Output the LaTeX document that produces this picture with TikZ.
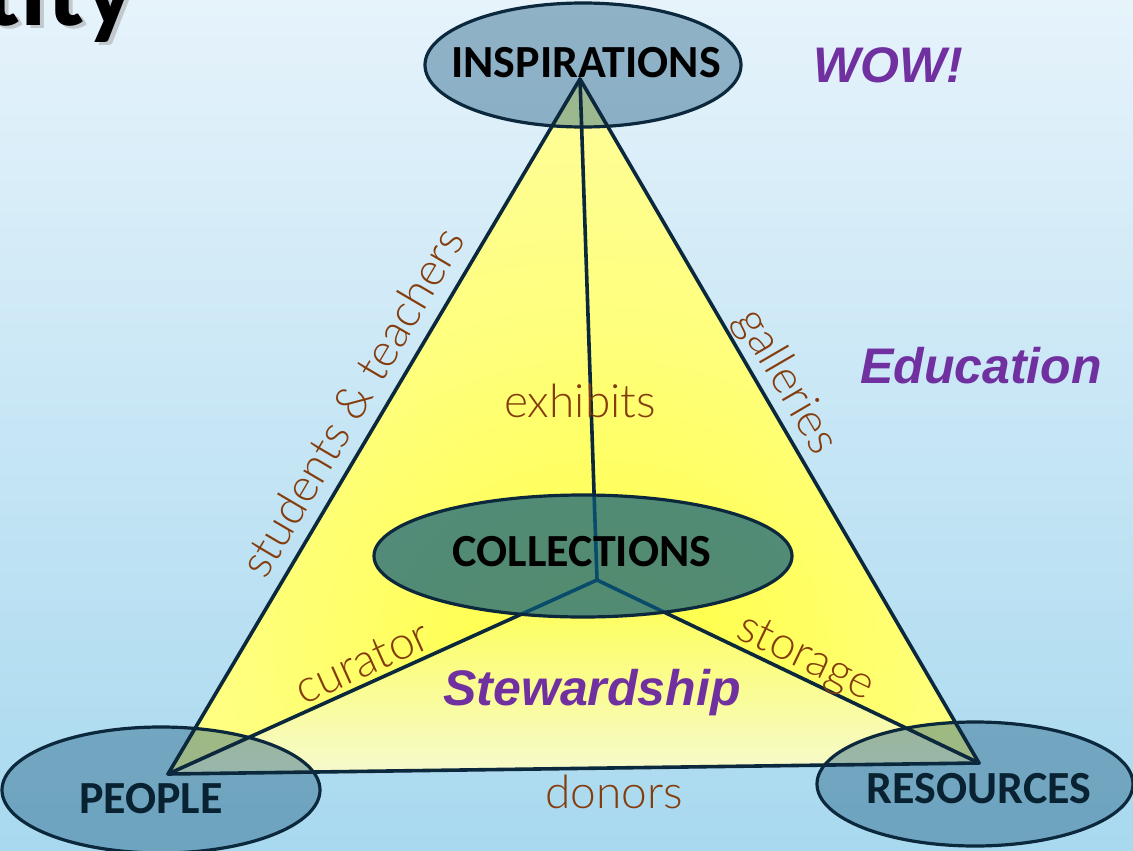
\documentclass[tikz,border=0pt]{standalone}
\usepackage{fontspec}
\usetikzlibrary{shapes.geometric}

\newfontfamily\capsfont{Carlito}
\newfontfamily\thinfont{Lato Light}
\newfontfamily\accentfont{Liberation Sans}

\definecolor{navy}{RGB}{12,40,60}
\definecolor{navytext}{RGB}{8,34,50}
\definecolor{rust}{RGB}{132,60,12}
\definecolor{plum}{RGB}{112,48,160}
\definecolor{bgtop}{RGB}{230,243,251}
\definecolor{bgbot}{RGB}{168,217,239}
\definecolor{steel}{RGB}{40,100,135}
\definecolor{deepteal}{RGB}{9,91,126}
\definecolor{ycore}{RGB}{255,255,60}
\definecolor{ymid}{RGB}{255,255,125}
\definecolor{ypale}{RGB}{252,252,172}
\definecolor{basetop}{RGB}{255,255,75}
\definecolor{basemid}{RGB}{252,253,165}
\definecolor{basebot}{RGB}{246,250,205}

% glow of the pyramid's side faces, brightest just above the hub
\pgfdeclareradialshading{pyramid}{\pgfpoint{2bp}{-19bp}}{%
  color(0bp)=(ycore); color(22bp)=(ymid); color(46bp)=(ypale); color(100bp)=(ypale)}

\tikzset{
  rim/.style={draw=navy, line width=3.6pt, line join=round, line cap=round},
  corner/.style={ellipse, draw=navy, line width=3.2pt, fill=steel, fill opacity=.45,
    inner sep=0pt, minimum width=316pt, minimum height=124pt},
  hubring/.style={ellipse, draw=navy, line width=3.2pt, fill=deepteal, fill opacity=.7,
    inner sep=0pt, minimum width=418pt, minimum height=122pt},
  captext/.style={font=\capsfont\bfseries\fontsize{46}{50}\selectfont, inner sep=0pt},
  linktext/.style={font=\thinfont\fontsize{46}{52}\selectfont, text=rust, inner sep=0pt},
  themetext/.style={font=\accentfont\bfseries\itshape\fontsize{50}{56}\selectfont,
    text=plum, inner sep=0pt},
  titletext/.style={font=\capsfont\bfseries\fontsize{108}{112}\selectfont, inner sep=0pt}
}

\begin{document}
\begin{tikzpicture}[x=1pt, y=-1pt]
\useasboundingbox (0,0) rectangle (1133,851);

% backdrop
\shade[top color=bgtop, bottom color=bgbot] (0,0) rectangle (1133,851);

% tail of the slide title, with its soft drop shadow
\node[titletext, text=black!40, opacity=.45, anchor=base east] (titleshadow) at (140,29) {tity};
\node[titletext, text=black, anchor=base east] (title) at (136,26) {tity};

% pyramid corners and hub
\coordinate (apex) at (580,79);
\coordinate (vpeople) at (168,774);
\coordinate (vres) at (979,763);
\coordinate (hub) at (597,580);

% faces
\shade[shading=pyramid] (apex) -- (vpeople) -- (vres) -- cycle;
\shade[top color=basetop, middle color=basemid, bottom color=basebot]
  (vpeople) -- (hub) -- (vres) -- cycle;

% corner ellipses
\node[corner] (insp) at (583,65) {};
\node[corner, minimum width=318pt, minimum height=126pt] (people) at (161,790) {};
\node[corner] (res) at (975,784) {};

% edges of the pyramid
\draw[rim] (apex) -- (vpeople) -- (vres) -- cycle;
\draw[rim] (hub) -- (apex);
\draw[rim] (hub) -- (vpeople);
\draw[rim] (hub) -- (vres);

% central ellipse
\node[hubring] (coll) at (583,556) {};

% ellipse titles
\node[captext, text=black] (insplabel) at (586,63) {INSPIRATIONS};
\node[captext, text=black] (colllabel) at (582,552) {COLLECTIONS};
\node[captext, text=navytext] (peoplelabel) at (151,799) {PEOPLE};
\node[captext, text=navytext] (reslabel) at (979,789) {RESOURCES};

% edge labels
\node[linktext, rotate=59.5] (stlabel) at (352,402) {students \& teachers};
\node[linktext, rotate=-59.8] (gallabel) at (786,382) {galleries};
\node[linktext, anchor=base] (exlabel) at (580,417) {exhibits};
\node[linktext, rotate=24.3] (curlabel) at (362,662) {curator};
\node[linktext, rotate=-25.7] (storlabel) at (805,659) {storage};
\node[linktext, anchor=base] (donlabel) at (614,808) {donors};

% themes
\node[themetext, anchor=base] (wow) at (888,82) {WOW!};
\node[themetext, anchor=base] (edu) at (981,383) {Education};
\node[themetext, anchor=base] (stew) at (592,705) {Stewardship};
\end{tikzpicture}
\end{document}
